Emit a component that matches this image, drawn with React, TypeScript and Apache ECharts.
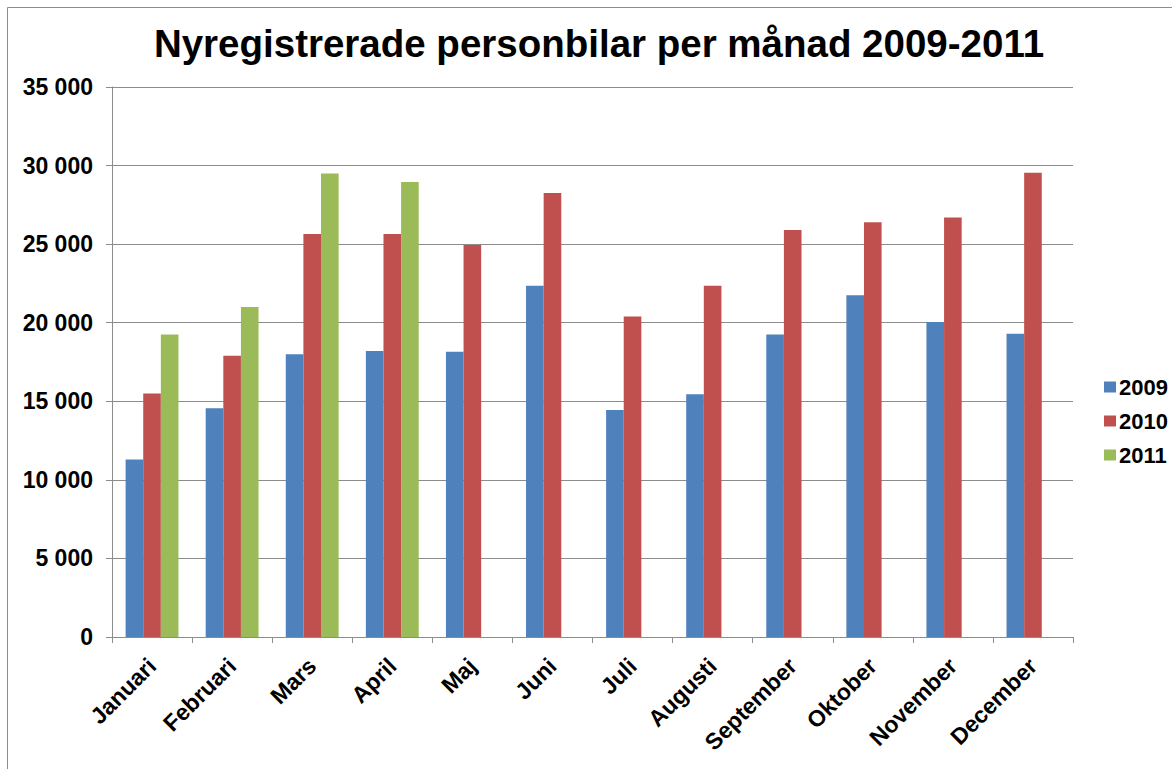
import React, { useEffect, useRef } from "react";
import * as echarts from "echarts";

const title = "Nyregistrerade personbilar per månad 2009-2011";
const months = [
  "Januari", "Februari", "Mars", "April", "Maj", "Juni",
  "Juli", "Augusti", "September", "Oktober", "November", "December",
];
const seriesNames = ["2009", "2010", "2011"];
const values2009 = [11300, 14550, 18000, 18200, 18150, 22350, 14450, 15450, 19250, 21750, 20050, 19300];
const values2010 = [15500, 17900, 25650, 25650, 24950, 28250, 20400, 22350, 25900, 26400, 26700, 29550];
const values2011 = [19250, 21000, 29500, 28950, null, null, null, null, null, null, null, null];
const colors = ["#4F81BD", "#C0504D", "#9BBB59"];
const yMin = 0;
const yMax = 35000;
const yStep = 5000;

const FONT = "'Liberation Sans', Arial, sans-serif";

function fmt(v: number): string {
  return String(v).replace(/\B(?=(\d{3})+(?!\d))/g, "\u00a0");
}

export default function App() {
  const ref = useRef<HTMLDivElement>(null);
  useEffect(() => {
    document.body.style.margin = "0";
    if (!ref.current) return;
    const chart = echarts.init(ref.current, undefined, { renderer: "svg" });
    const data = [values2009, values2010, values2011];
    chart.setOption({
      animation: false,
      backgroundColor: "#ffffff",
      title: {
        text: title,
        left: 594,
        textAlign: "center",
        top: 19,
        textStyle: { fontFamily: FONT, fontWeight: "bold", fontSize: 38.5, color: "#000" },
      },
      graphic: [
        {
          type: "rect",
          shape: { x: 7.5, y: 7.5, width: 1400, height: 1000 },
          style: { fill: "none", stroke: "#8c8c8c", lineWidth: 1 },
          silent: true,
        },
      ],
      legend: {
        orient: "vertical",
        left: 1099,
        top: 371,
        itemWidth: 12,
        itemHeight: 11,
        itemGap: 12,
        icon: "rect",
        data: seriesNames,
        textStyle: { fontFamily: FONT, fontWeight: "bold", fontSize: 22, color: "#000", padding: [0, 0, 0, -2] },
      },
      grid: { left: 112, right: 99, top: 87, bottom: 132, containLabel: false },
      xAxis: {
        type: "category",
        data: months,
        axisLine: { lineStyle: { color: "#8c8c8c", width: 1 } },
        axisTick: { show: true, length: 6, lineStyle: { color: "#8c8c8c" } },
        axisLabel: {
          rotate: 45,
          margin: 25,
          interval: 0,
          fontFamily: FONT,
          fontWeight: "bold",
          fontSize: 23,
          color: "#000",
        },
      },
      yAxis: {
        type: "value",
        min: yMin,
        max: yMax,
        interval: yStep,
        axisLine: { show: true, lineStyle: { color: "#8c8c8c", width: 1 } },
        axisTick: { show: true, length: 6, lineStyle: { color: "#8c8c8c" } },
        splitLine: { lineStyle: { color: "#8c8c8c", width: 1 } },
        axisLabel: {
          margin: 19,
          fontFamily: FONT,
          fontWeight: "bold",
          fontSize: 23,
          color: "#000",
          formatter: (v: number) => fmt(v),
        },
      },
      series: seriesNames.map((name, i) => ({
        name,
        type: "bar",
        data: data[i],
        barGap: "0%",
        barCategoryGap: "34%",
        itemStyle: { color: colors[i] },
      })),
    });
    return () => chart.dispose();
  }, []);
  return <div ref={ref} style={{ width: 1172, height: 769 }} />;
}
